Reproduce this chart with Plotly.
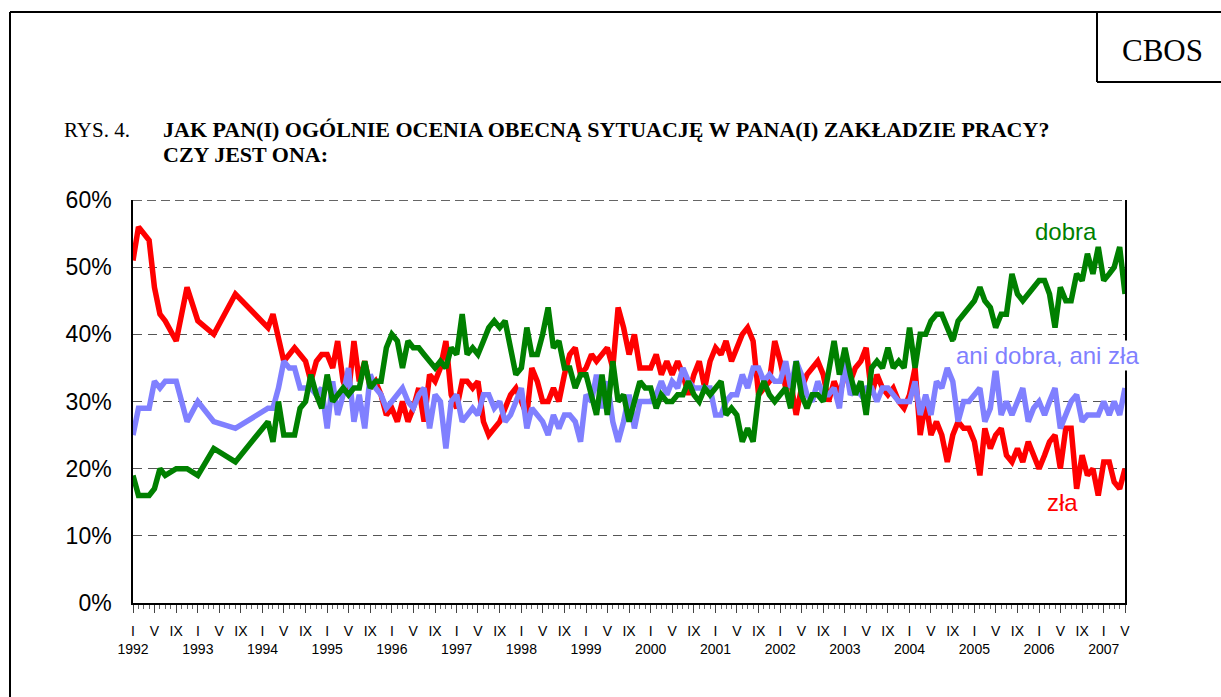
import pandas as pd
import plotly.graph_objects as go

# ---------------- data ----------------
# survey months: sparse 1992-1993, monthly from Feb 1994 to May 2007
months_early = ["1992-01-01", "1992-02-01", "1992-04-01", "1992-05-01", "1992-06-01",
                "1992-07-01", "1992-09-01", "1992-11-01", "1993-01-01", "1993-04-01",
                "1993-08-01"]
months_monthly = list(pd.date_range("1994-02-01", "2007-05-01", freq="MS").strftime("%Y-%m-%d"))
months = months_early + months_monthly

zla = [51, 56, 54, 47, 43, 42, 39, 47, 42, 40, 46,            # 1992-1993
       41, 43, 39, 36, 37, 38, 37, 36, 33, 36, 37,            # 1994 (II-XII)
       37, 35, 39, 33, 31, 39, 33, 36, 32, 33, 31, 28,        # 1995
       29, 27, 30, 27, 29, 32, 27, 34, 33, 35, 39, 31,        # 1996
       29, 33, 33, 32, 33, 27, 25, 26, 27, 29, 31, 32,        # 1997
       30, 28, 35, 33, 30, 30, 32, 30, 34, 37, 38, 34,        # 1998
       35, 37, 36, 37, 38, 35, 44, 41, 37, 40, 35, 35,        # 1999
       35, 37, 34, 36, 34, 36, 34, 31, 34, 36, 32, 36,        # 2000
       38, 37, 39, 36, 38, 40, 41, 39, 31, 32, 33, 39,        # 2001
       36, 32, 33, 28, 32, 34, 35, 36, 34, 30, 33, 31,        # 2002
       34, 33, 35, 36, 38, 31, 34, 32, 31, 32, 30, 29,        # 2003
       31, 35, 25, 30, 25, 27, 25, 21, 25, 27, 26, 26,        # 2004
       24, 19, 26, 23, 25, 26, 22, 21, 23, 21, 24, 22,        # 2005
       20, 22, 24, 25, 20, 26, 26, 17, 22, 19, 20, 16,        # 2006
       21, 21, 18, 17, 20]                                    # 2007

dobra = [19, 16, 16, 17, 20, 19, 20, 20, 19, 23, 21,
         27, 24, 30, 25, 25, 25, 29, 30, 34, 31, 29,
         34, 30, 31, 32, 31, 32, 32, 36, 32, 33, 33, 38,
         40, 39, 35, 39, 38, 38, 37, 36, 35, 36, 35, 38,
         37, 43, 37, 38, 37, 39, 41, 42, 41, 42, 38, 34,
         35, 41, 37, 37, 40, 44, 38, 39, 35, 35, 32, 34,
         34, 31, 28, 34, 28, 36, 30, 31, 27, 30, 33, 32,
         32, 29, 31, 30, 30, 31, 31, 33, 31, 30, 32, 31,
         32, 33, 28, 29, 28, 24, 26, 24, 31, 33, 31, 30,
         31, 32, 29, 36, 31, 29, 31, 31, 30, 34, 39, 34,
         38, 34, 31, 33, 28, 35, 36, 35, 38, 35, 36, 35,
         41, 35, 40, 40, 42, 43, 43, 41, 39, 42, 43, 44,
         45, 47, 45, 44, 41, 43, 43, 49, 46, 45, 46, 47,
         48, 48, 46, 41, 47, 45, 45, 49, 48, 52, 49, 53,
         48, 49, 50, 53, 46]

ani = [25, 29, 29, 33, 32, 33, 33, 27, 30, 27, 26,
       29, 29, 32, 36, 35, 35, 32, 32, 32, 31, 32,
       26, 33, 28, 31, 35, 27, 31, 26, 34, 32, 31, 29,
       30, 31, 32, 30, 29, 31, 32, 26, 31, 30, 23, 30,
       31, 27, 28, 29, 28, 31, 31, 29, 30, 27, 28, 30,
       32, 26, 29, 28, 27, 25, 28, 26, 28, 28, 27, 24,
       31, 30, 34, 29, 33, 27, 24, 27, 31, 26, 30, 30,
       30, 31, 33, 31, 33, 32, 35, 33, 32, 32, 32, 32,
       28, 28, 30, 31, 31, 34, 32, 35, 35, 33, 34, 33,
       33, 36, 32, 36, 34, 31, 30, 33, 31, 31, 32, 29,
       36, 31, 32, 31, 32, 32, 30, 32, 32, 31, 30, 30,
       30, 33, 28, 31, 28, 33, 32, 35, 33, 27, 30, 30,
       31, 32, 27, 29, 35, 28, 30, 28, 30, 32, 27, 29,
       30, 28, 30, 32, 26, 28, 30, 31, 27, 28, 28, 28,
       30, 28, 30, 28, 32]

assert len(zla) == len(dobra) == len(ani) == len(months)

roman = {1: "I", 5: "V", 9: "IX"}
tick_years = list(range(1992, 2008))
y_ticks = [0, 10, 20, 30, 40, 50, 60]

# ---------------- layout helpers ----------------
W, H = 1221, 697
ML, MR, MT, MB = 133, 96, 200, 94
PW, PH = W - ML - MR, H - MT - MB


def px(x):
    return (x - ML) / PW


def py(y):
    return (H - MB - y) / PH


tickvals, ticktext = [], []
for yr in tick_years:
    for mo in (1, 5, 9):
        d = f"{yr}-{mo:02d}-01"
        if d > months[-1]:
            continue
        tickvals.append(d)
        ticktext.append(roman[mo] + ("<br>" + str(yr) if mo == 1 else ""))

RED, GREEN, BLUE = "#FF0000", "#008000", "#8080FF"
LW = 5.5

fig = go.Figure()
fig.add_trace(go.Scatter(x=months, y=zla, mode="lines", name="zła",
                         line=dict(color=RED, width=LW)))
fig.add_trace(go.Scatter(x=months, y=ani, mode="lines", name="ani dobra, ani zła",
                         line=dict(color=BLUE, width=LW)))
fig.add_trace(go.Scatter(x=months, y=dobra, mode="lines", name="dobra",
                         line=dict(color=GREEN, width=LW)))

fig.update_layout(
    width=W, height=H,
    margin=dict(l=ML, r=MR, t=MT, b=MB, pad=0),
    paper_bgcolor="white", plot_bgcolor="white",
    showlegend=False,
    font=dict(family="Liberation Sans, Arial", color="black"),
)

fig.update_xaxes(
    type="date",
    range=[months[0], months[-1]],
    tickmode="array", tickvals=tickvals, ticktext=ticktext,
    tickangle=0,
    tickfont=dict(size=14, family="Liberation Sans, Arial"),
    ticks="outside", ticklen=8, tickwidth=1, tickcolor="#444",
    ticklabelstandoff=6,
    showline=True, linecolor="black", linewidth=1.5,
    showgrid=False, zeroline=False,
    minor=dict(ticks="outside", ticklen=4, tickwidth=1, tickcolor="#666",
               dtick="M1", tick0="1992-01-01", showgrid=False),
)
fig.update_yaxes(
    range=[0, 60], tickmode="array", tickvals=y_ticks,
    ticktext=[f"{v}%" for v in y_ticks],
    tickfont=dict(size=23, family="Liberation Sans, Arial"),
    ticks="", ticklabelstandoff=15,
    showline=True, linecolor="black", linewidth=1.5, mirror=True,
    showgrid=True, gridcolor="#555", gridwidth=1, griddash="9px,6px",
    zeroline=False,
)

# dashed top border at 60%
fig.add_shape(type="line", xref="paper", yref="y", x0=0, x1=1, y0=60, y1=60,
              line=dict(color="#333", width=1.5, dash="9px,5px"))

# frame and CBOS box
frame = dict(type="line", xref="paper", yref="paper", line=dict(color="black", width=2))
fig.add_shape(**frame, x0=px(10), y0=py(12), x1=px(1230), y1=py(12))
fig.add_shape(**frame, x0=px(10), y0=py(12), x1=px(10), y1=py(705))
fig.add_shape(**frame, x0=px(1097), y0=py(12), x1=px(1097), y1=py(82))
fig.add_shape(**frame, x0=px(1097), y0=py(82), x1=px(1230), y1=py(82))

SERIF = "Liberation Serif, Times New Roman"
fig.add_annotation(text="CBOS", xref="paper", yref="paper", x=px(1162), y=py(50),
                   xanchor="center", yanchor="middle", showarrow=False,
                   font=dict(family=SERIF, size=31, color="black"))
fig.add_annotation(text="RYS. 4.", xref="paper", yref="paper", x=px(62), y=py(130),
                   xanchor="left", yanchor="middle", showarrow=False,
                   font=dict(family=SERIF, size=21, color="black"))
fig.add_annotation(text="<b>JAK PAN(I) OGÓLNIE OCENIA OBECNĄ SYTUACJĘ W PANA(I) ZAKŁADZIE PRACY?</b>",
                   xref="paper", yref="paper", x=px(161), y=py(129),
                   xanchor="left", yanchor="middle", showarrow=False,
                   font=dict(family=SERIF, size=22, color="black"))
fig.add_annotation(text="<b>CZY JEST ONA:</b>",
                   xref="paper", yref="paper", x=px(161), y=py(155),
                   xanchor="left", yanchor="middle", showarrow=False,
                   font=dict(family=SERIF, size=22, color="black"))

# series labels
fig.add_annotation(text="dobra", x="2006-06-01", y=55.3, showarrow=False,
                   xanchor="center", yanchor="middle",
                   font=dict(size=24, color=GREEN))
fig.add_annotation(text="ani dobra, ani zła", x="2006-02-15", y=36.8, showarrow=False,
                   xanchor="center", yanchor="middle", bgcolor="white",
                   font=dict(size=24, color=BLUE))
fig.add_annotation(text="zła", x="2006-05-15", y=14.9, showarrow=False,
                   xanchor="center", yanchor="middle",
                   font=dict(size=24, color=RED))

fig.write_html("out.html", config={"displayModeBar": False},
               post_script="document.body.style.margin='0px';")
